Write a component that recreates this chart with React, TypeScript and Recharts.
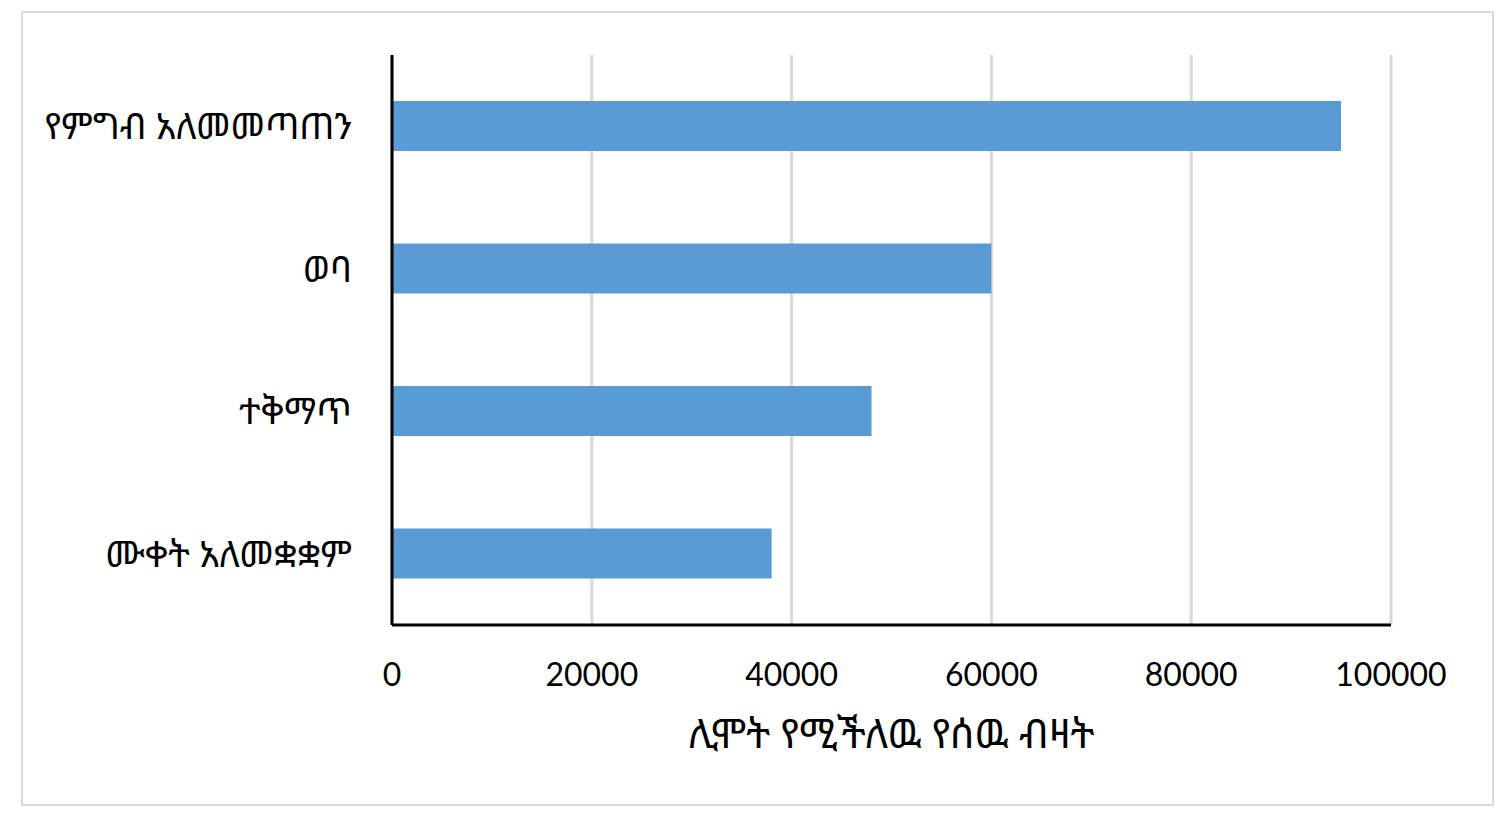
import React from 'react';
import { BarChart, Bar, XAxis, YAxis, CartesianGrid, Label } from 'recharts';

const categories = ['የምግብ አለመመጣጠን', 'ወባ', 'ተቅማጥ', 'ሙቀት አለመቋቋም'];
const deaths = [95000, 60000, 48000, 38000];
const xTicks = [0, 20000, 40000, 60000, 80000, 100000];
const xAxisTitle = 'ሊሞት የሚችለዉ የሰዉ ብዛት';

const data = categories.map((name, i) => ({ name, value: deaths[i] }));

const ethFont = '"Noto Sans Ethiopic", "Abyssinica SIL", "DejaVu Sans", "Noto Sans", sans-serif';

export default function App() {
  return (
    <div style={{ position: 'absolute', left: 0, top: 0, width: 1500, height: 818, background: '#fff' }}>
      <div
        style={{
          position: 'absolute',
          left: 21,
          top: 11,
          width: 1473,
          height: 795,
          border: '2px solid #d9d9d9',
          boxSizing: 'border-box',
        }}
      />
      <div style={{ position: 'absolute', left: 0, top: 0 }}>
        <BarChart
          width={1500}
          height={818}
          data={data}
          layout="vertical"
          margin={{ top: 55, right: 109, bottom: 43, left: 0 }}
          barSize={50}
        >
          <CartesianGrid horizontal={false} vertical={true} stroke="#d9d9d9" strokeWidth={3} />
          <XAxis
            type="number"
            domain={[0, 100000]}
            ticks={xTicks}
            interval={0}
            height={150}
            tickLine={false}
            tickMargin={32}
            axisLine={{ stroke: '#000', strokeWidth: 3 }}
            tick={{ fill: '#000', fontSize: 32, fontFamily: 'Lato, "Open Sans", sans-serif' }}
          >
            <Label
              value={xAxisTitle}
              position="insideBottom"
              offset={27}
              style={{ fill: '#000', fontSize: 40, fontFamily: ethFont }}
            />
          </XAxis>
          <YAxis
            type="category"
            dataKey="name"
            width={392}
            tickLine={false}
            tickMargin={34}
            axisLine={{ stroke: '#000', strokeWidth: 3 }}
            tick={{ fill: '#000', fontSize: 36, fontFamily: ethFont }}
          />
          <Bar dataKey="value" fill="#5b9bd5" isAnimationActive={false} />
        </BarChart>
      </div>
    </div>
  );
}
